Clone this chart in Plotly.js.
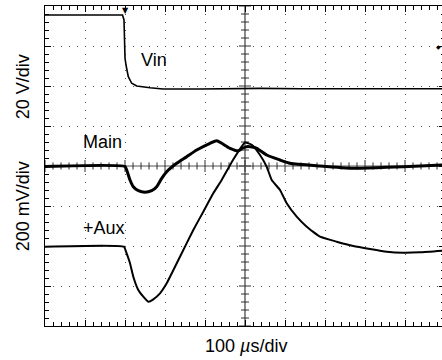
<!DOCTYPE html>
<html>
<head>
<meta charset="utf-8">
<script src="https://cdn.plot.ly/plotly-3.0.1.min.js"></script>
<style>
html,body{margin:0;padding:0;overflow:hidden;background:#fff;}
#chart{width:445px;height:360px;}
</style>
</head>
<body>
<div id="chart"></div>
<script>
// Time in microseconds (100 us/div), amplitude in screen divisions
const vinTime = [-500,-306.25,-302.5,-301.25,-300,-297.5,-291.75,-283.25,-270.75,-237.5,-205,-112.5,-37.5,37.5,137.5,500];
const vinDiv  = [3.775,3.775,3.65,3.15,2.70,2.525,2.233,2.068,2.0,1.958,1.925,1.925,1.9375,1.94,1.93,1.93];

const mainTime = [-500,-300,-295.75,-287.5,-279.25,-266.75,-250,-233.25,-220.75,-208.25,-195.75,-170.75,-145.75,-120.75,-87.5,-70.75,-58.25,-37.5,-16.75,-5,4.25,17.5,29.25,54.25,87.5,112.5,187.5,270,354.25,437.5,500];
const mainDiv  = [-0.0125,-0.0125,-0.1,-0.35,-0.5175,-0.6175,-0.6575,-0.6175,-0.5175,-0.3075,-0.1425,0.0675,0.2325,0.4,0.5675,0.6325,0.5675,0.4425,0.3825,0.45,0.4825,0.475,0.4425,0.275,0.15,0.0675,0,-0.0575,-0.0325,0,0.025];

const auxTime = [-500,-302.5,-297.5,-287.5,-279.25,-266.75,-254.25,-241.75,-229.25,-212.5,-195.75,-162.5,-129.25,-104.25,-79.25,-58.25,-30,0,17.5,37.5,54.25,66.75,87.5,104.25,129.25,154.25,187.5,229.25,270.75,312.5,354.25,395.75,437.5,500];
const auxDiv  = [-2.0175,-2.0175,-2.1425,-2.4325,-2.7675,-3.1,-3.2675,-3.3925,-3.3325,-3.1825,-2.9325,-2.2675,-1.6,-1.1425,-0.6825,-0.35,0.15,0.5875,0.525,0.275,-0.0175,-0.35,-0.6,-0.9325,-1.2675,-1.5175,-1.7675,-1.8925,-2.0,-2.075,-2.1425,-2.1675,-2.1575,-2.1125];

const traceLabels = ["Vin","Main","+Aux"];
const yLabels = ["20 V/div","200 mV/div"];
const xLabel = "100 <i>µ</i>s/div";

const font = "Liberation Sans, Arial, Helvetica, sans-serif";

const traces = [
  {x: vinTime, y: vinDiv, mode:"lines", line:{color:"#000", width:1.6}, hoverinfo:"skip"},
  {x: mainTime, y: mainDiv, mode:"lines", line:{color:"#000", width:3, shape:"spline", smoothing:0.5}, hoverinfo:"skip"},
  {x: auxTime, y: auxDiv, mode:"lines", line:{color:"#000", width:2, shape:"spline", smoothing:0.4}, hoverinfo:"skip"}
];

// center cross graticule with tick marks
const shapes = [
  {type:"line", xref:"x", yref:"y", x0:0, x1:0, y0:-4, y1:4, line:{color:"#8a8a8a", width:2}, layer:"below"},
  {type:"line", xref:"x", yref:"y", x0:-500, x1:500, y0:0, y1:0, line:{color:"#555", width:1.2}, layer:"below"}
];
for (let k = -20; k <= 20; k++) {
  const major = (k % 5 === 0);
  const h = major ? 15 : 10;
  shapes.push({type:"line", xref:"x", yref:"y", x0:-h, x1:h, y0:k*0.2, y1:k*0.2, line:{color:"#333", width:1}, layer:"below"});
}
for (let k = -25; k <= 25; k++) {
  const major = (k % 5 === 0);
  const h = major ? 0.15 : 0.09;
  shapes.push({type:"line", xref:"x", yref:"y", x0:k*20, x1:k*20, y0:-h, y1:h, line:{color:"#333", width:1}, layer:"below"});
}

const labelPos = [[-227.5,2.66],[-355.75,0.59],[-352.5,-1.54]];
const annotations = traceLabels.map((t,i)=>({
  text:t, x:labelPos[i][0], y:labelPos[i][1], xref:"x", yref:"y",
  showarrow:false, xanchor:"center", yanchor:"middle",
  font:{family:font, size:18, color:"#000"}
}));
annotations.push({text:yLabels[0], xref:"paper", yref:"paper", x:-0.056, y:0.748, textangle:-90,
  showarrow:false, xanchor:"center", yanchor:"middle", font:{family:font, size:18, color:"#000"}});
annotations.push({text:yLabels[1], xref:"paper", yref:"paper", x:-0.056, y:0.373, textangle:-90,
  showarrow:false, xanchor:"center", yanchor:"middle", font:{family:font, size:18, color:"#000"}});
annotations.push({text:xLabel, xref:"paper", yref:"paper", x:0.5025, y:-0.0625,
  showarrow:false, xanchor:"center", yanchor:"middle", font:{family:font, size:18, color:"#000"}});
annotations.push({text:"▼", xref:"x", yref:"paper", x:-300, y:1.0, showarrow:false,
  xanchor:"center", yanchor:"top", yshift:2, font:{family:"DejaVu Sans", size:8, color:"#000"}});
annotations.push({text:"◆", xref:"x", yref:"y", x:483, y:3.0, showarrow:false,
  xanchor:"center", yanchor:"middle", font:{family:"DejaVu Sans", size:6, color:"#000"}});

const axisCommon = {
  showgrid:true, gridcolor:"#555", gridwidth:1, griddash:"1px,7px",
  zeroline:false, showline:true, linecolor:"#000", linewidth:1, mirror:"allticks",
  ticks:"inside", ticklen:6, tickwidth:1, tickcolor:"#000", showticklabels:false,
  fixedrange:true
};

const layout = {
  width:445, height:360,
  margin:{l:45, r:0, t:6, b:34, pad:0},
  paper_bgcolor:"#fff", plot_bgcolor:"#fff",
  showlegend:false,
  xaxis: Object.assign({}, axisCommon, {range:[-500,500], tick0:0, dtick:100,
    minor:{dtick:20, tick0:0, ticks:"inside", ticklen:4, tickcolor:"#000", showgrid:false}}),
  yaxis: Object.assign({}, axisCommon, {range:[-4,4], tick0:0, dtick:1,
    minor:{dtick:0.2, tick0:0, ticks:"inside", ticklen:4, tickcolor:"#000", showgrid:false}}),
  shapes: shapes,
  annotations: annotations
};

Plotly.newPlot("chart", traces, layout, {staticPlot:true, displayModeBar:false});
</script>
</body>
</html>
